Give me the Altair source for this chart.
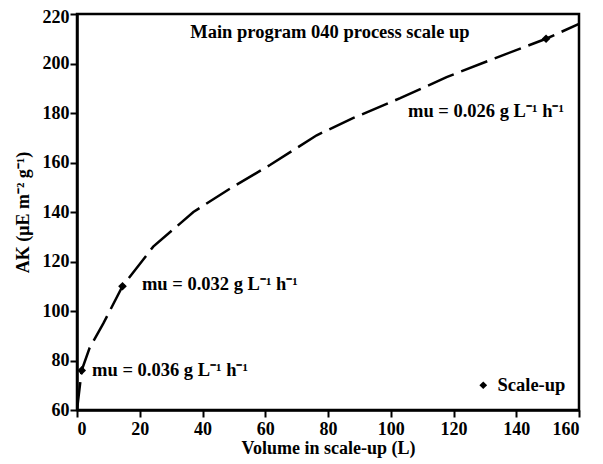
import altair as alt
import pandas as pd

# fitted curve
curve_x = [0, 1.5, 4, 8.4, 14.5, 24.3, 37.1, 48.2, 61.5, 76.4, 88.1, 103, 117.8, 135, 149.5, 160]
curve_y = [60, 76, 85, 95, 110, 126, 140, 149, 159, 171, 178, 186, 194.5, 203, 210, 216]

# scale-up points
pt_x = [1.5, 14.5, 149.5]
pt_y = [76, 110, 210]
pt_series = ["Scale-up", "Scale-up", "Scale-up"]

# annotations
lab_x = [4.8, 20.7, 105.5]
lab_y = [76, 110.8, 181]
lab_text = ["mu = 0.036 g L\u207b\u00b9  h\u207b\u00b9",
            "mu = 0.032 g L\u207b\u00b9  h\u207b\u00b9",
            "mu = 0.026 g L\u207b\u00b9  h\u207b\u00b9"]

title_x = [80.6]
title_y = [212.7]
title_text = ["Main program 040 process scale up"]

FONT = "Liberation Serif"

curve_df = pd.DataFrame({"x": curve_x, "y": curve_y})
pt_df = pd.DataFrame({"x": pt_x, "y": pt_y, "s": pt_series})
lab_df = pd.DataFrame({"x": lab_x, "y": lab_y, "t": lab_text})
title_df = pd.DataFrame({"x": title_x, "y": title_y, "t": title_text})

xs = alt.Scale(domain=[0, 160], nice=False)
ys = alt.Scale(domain=[60, 220], nice=False)

xax = alt.Axis(values=list(range(0, 161, 20)), title="Volume in scale-up (L)", grid=False,
               labelPadding=3, titlePadding=1)
yax = alt.Axis(values=list(range(60, 221, 20)), title="AK (\u03bcE m\u207b\u00b2 g\u207b\u00b9)", grid=False,
               labelPadding=1, titlePadding=10,
               labelOffset={"condition": {"test": "datum.value == 220", "value": 3}, "value": 0})

line = alt.Chart(curve_df).mark_line(color="black", strokeWidth=2.5, strokeDash=[28, 8], clip=True).encode(
    x=alt.X("x:Q", scale=xs, axis=xax),
    y=alt.Y("y:Q", scale=ys, axis=yax),
)

points = alt.Chart(pt_df).mark_point(shape="diamond", filled=True, size=75, opacity=1).encode(
    x=alt.X("x:Q", scale=xs),
    y=alt.Y("y:Q", scale=ys),
    color=alt.Color("s:N", scale=alt.Scale(domain=["Scale-up"], range=["black"]),
                    legend=alt.Legend(title=None, orient="none", legendX=397, legendY=362,
                                      symbolType="diamond", symbolSize=60,
                                      labelFont=FONT, labelFontSize=18.5, labelFontWeight="bold",
                                      labelColor="black", symbolStrokeWidth=0, labelOffset=5)),
)

labels = alt.Chart(lab_df).mark_text(align="left", baseline="middle", font=FONT, fontSize=18.5,
                                     fontWeight="bold", color="black").encode(
    x=alt.X("x:Q", scale=xs), y=alt.Y("y:Q", scale=ys), text="t:N")

title = alt.Chart(title_df).mark_text(align="center", baseline="middle", font=FONT, fontSize=18.5,
                                      fontWeight="bold", color="black").encode(
    x=alt.X("x:Q", scale=xs), y=alt.Y("y:Q", scale=ys), text="t:N")

chart = alt.layer(line, points, labels, title).properties(
    width=502, height=396,
    autosize=alt.AutoSizeParams(type="none"),
    padding={"left": 69, "top": 6, "right": 10, "bottom": 50},
).configure_view(stroke="black", strokeWidth=2.5).configure_axis(
    domainColor="black", domainWidth=2.5, tickColor="black", tickWidth=2, tickSize=7,
    labelFont=FONT, labelFontSize=18, labelFontWeight="bold", labelColor="black",
    titleFont=FONT, titleFontSize=18, titleFontWeight="bold", titleColor="black",
)

chart.save("out.html", embed_options={"renderer": "svg", "actions": False})
